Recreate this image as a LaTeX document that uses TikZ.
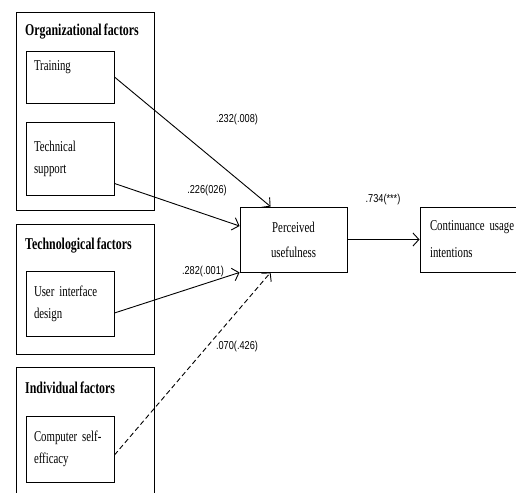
\documentclass[tikz,border=0pt]{standalone}
\usepackage{fontspec}
\setmainfont{Liberation Serif}[FakeStretch=0.72,WordSpace=0.7]
\newfontfamily\numfont{Liberation Sans}[FakeStretch=0.8]
\usetikzlibrary{arrows.meta}
\tikzset{
  groupbox/.style={draw,line width=0.9pt,inner sep=0pt},
  itembox/.style={draw,line width=0.9pt,text width=72pt,inner xsep=8pt,align=left,
    font=\fontsize{15}{22}\selectfont},
  grouptitle/.style={anchor=west,inner sep=0pt,font=\fontsize{16.5}{18}\selectfont\bfseries},
  coef/.style={inner sep=0pt,font=\numfont\fontsize{11.5}{13}\selectfont},
  path/.style={line width=0.9pt,-{Straight Barb[length=6pt,width=13pt]}}
}
\begin{document}
\begin{tikzpicture}[x=1pt,y=-1pt]
  \clip (0,0) rectangle (516,492);
  \fill[white] (0,0) rectangle (516,492);
  % factor groups
  \node[groupbox,minimum width=138pt,minimum height=198pt] (org) at (85,111) {};
  \node[grouptitle] (orgtitle) at (25,32) {Organizational factors};
  \node[groupbox,minimum width=138pt,minimum height=130pt] (techno) at (85,289) {};
  \node[grouptitle] (technotitle) at (25,246) {Technological factors};
  \node[groupbox,minimum width=138pt,minimum height=140pt] (indiv) at (85,437) {};
  \node[grouptitle] (indivtitle) at (25,388) {Individual factors};
  % items
  \node[itembox,minimum height=52pt,text depth=22pt] (train) at (70,77) {Training};
  \node[itembox,minimum height=73pt] (tech) at (70,158.5) {Technical\\support};
  \node[itembox,minimum height=65pt] (ui) at (70,303.5) {User interface\\design};
  \node[itembox,minimum height=66pt] (cse) at (70,449) {Computer self-\\efficacy};
  % outcomes
  \node[draw,line width=0.9pt,minimum width=107pt,minimum height=65pt,align=center,
        font=\fontsize{15}{25}\selectfont] (pu) at (293.5,239.5) {Perceived\\usefulness};
  \node[draw,line width=0.9pt,text width=100pt,inner xsep=10pt,minimum height=65pt,align=left,
        font=\fontsize{15}{27}\selectfont] (cui) at (480,239.5) {Continuance usage\\intentions};
  % paths
  \draw[path] (train.east) -- ([xshift=31pt]pu.north west);
  \draw[path] ([yshift=12pt]tech.south east) -- ([yshift=13.5pt]pu.west);
  \draw[path] ([yshift=-9.5pt]ui.east) -- (pu.south west);
  \draw[path,dash pattern=on 5pt off 3pt] ([yshift=-6pt]cse.east) -- ([xshift=31pt]pu.south west);
  \draw[path] (pu.east) -- (cui.west);
  % coefficients
  \node[coef] (c1) at (237,120) {.232(.008)};
  \node[coef] (c2) at (207,191) {.226(026)};
  \node[coef] (c3) at (203,272) {.282(.001)};
  \node[coef] (c4) at (237,347) {.070(.426)};
  \node[coef] (c5) at (383,200) {.734(***)};
\end{tikzpicture}
\end{document}
